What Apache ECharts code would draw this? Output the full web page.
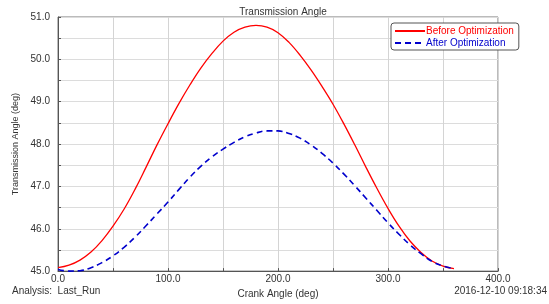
<!DOCTYPE html>
<html>
<head>
<meta charset="utf-8">
<script src="https://cdn.jsdelivr.net/npm/echarts@6/dist/echarts.min.js"></script>
<style>
  html, body { margin: 0; padding: 0; background: #fff; }
  #chart { width: 549px; height: 304px; }
</style>
</head>
<body>
<div id="chart"></div>
<script>
const crankAngle = [0, 10, 20, 30, 40, 50, 60, 70, 80, 90, 100, 110, 120, 130, 140, 150, 160, 170, 180,
  190, 200, 210, 220, 230, 240, 250, 260, 270, 280, 290, 300, 310, 320, 330, 340, 350, 360];
const beforeOpt = [45.08, 45.14, 45.26, 45.45, 45.72, 46.06, 46.46, 46.93, 47.45, 47.98, 48.48, 48.96, 49.4,
  49.8, 50.14, 50.43, 50.64, 50.76, 50.8, 50.76, 50.63, 50.4, 50.1, 49.75, 49.36, 48.94, 48.47, 47.97,
  47.45, 46.95, 46.48, 46.06, 45.71, 45.44, 45.24, 45.12, 45.06];
const afterOpt = [45.04, 45.0, 45.01, 45.08, 45.2, 45.36, 45.56, 45.8, 46.07, 46.35, 46.63, 46.93, 47.22,
  47.48, 47.7, 47.88, 48.04, 48.17, 48.26, 48.31, 48.31, 48.25, 48.14, 47.98, 47.78, 47.55, 47.29, 47.01,
  46.72, 46.43, 46.14, 45.87, 45.62, 45.41, 45.23, 45.12, 45.06];

const font = 'Liberation Sans, Arial, sans-serif';

function pairs(vals) {
  return crankAngle.map((x, i) => [x, vals[i]]);
}

var myChart = echarts.init(document.getElementById('chart'), null, { renderer: 'canvas' });
var option = {
  backgroundColor: '#fff',
  animation: false,
  title: {
    text: 'Transmission Angle',
    left: 278,
    top: 2,
    textAlign: 'center',
    textStyle: { fontFamily: font, fontSize: 10, fontWeight: 'normal', color: '#333' }
  },
  legend: {
    orient: 'vertical',
    left: 391,
    top: 23,
    itemWidth: 30,
    itemHeight: 8,
    itemGap: 2,
    padding: [3, 5, 2, 3],
    borderColor: '#555',
    borderWidth: 1,
    borderRadius: 3,
    backgroundColor: '#fff',
    itemStyle: { opacity: 0 },
    textStyle: { fontFamily: font, fontSize: 10, padding: [0, 0, 0, -4] },
    data: [
      { name: 'Before Optimization', textStyle: { color: '#ff0000' } },
      { name: 'After Optimization', textStyle: { color: '#0000cc' } }
    ]
  },
  grid: {
    left: 58, right: 51, top: 17, bottom: 29,
    show: true, borderColor: '#777', borderWidth: 1
  },
  xAxis: {
    type: 'value',
    min: 0, max: 400, interval: 50,
    name: 'Crank Angle (deg)',
    nameLocation: 'middle',
    nameGap: 13,
    nameTextStyle: { fontFamily: font, fontSize: 10, color: '#333' },
    axisLine: { lineStyle: { color: '#555' } },
    axisTick: { inside: true, length: 3, lineStyle: { color: '#555' } },
    axisLabel: {
      fontFamily: font, fontSize: 10, color: '#333', margin: 3,
      formatter: v => (v % 100 === 0 ? v.toFixed(1) : '')
    },
    splitLine: { lineStyle: { color: '#d4d4d4' } }
  },
  yAxis: {
    type: 'value',
    min: 45, max: 51, interval: 0.5,
    name: 'Transmission Angle (deg)',
    nameLocation: 'middle',
    nameGap: 36,
    nameTextStyle: { fontFamily: font, fontSize: 9, color: '#333' },
    axisLine: { show: true, lineStyle: { color: '#555' } },
    axisTick: { show: true, inside: true, length: 3, lineStyle: { color: '#555' } },
    axisLabel: {
      fontFamily: font, fontSize: 10, color: '#333', margin: 8,
      formatter: v => (Math.abs(v % 1) < 1e-9 ? v.toFixed(1) : '')
    },
    splitLine: { lineStyle: { color: '#dcdcdc' } }
  },
  graphic: [
    {
      type: 'text', left: 12, top: 286,
      style: { text: 'Analysis:  Last_Run', fontFamily: font, fontSize: 10, fill: '#333' }
    },
    {
      type: 'text', right: 2, top: 286,
      style: { text: '2016-12-10 09:18:34', fontFamily: font, fontSize: 10, fill: '#333' }
    }
  ],
  series: [
    {
      name: 'Before Optimization',
      type: 'line',
      smooth: 0.4,
      symbol: 'none',
      data: pairs(beforeOpt),
      lineStyle: { color: '#ff0000', width: 1.3 },
      itemStyle: { color: '#ff0000' }
    },
    {
      name: 'After Optimization',
      type: 'line',
      smooth: 0.4,
      symbol: 'none',
      data: pairs(afterOpt),
      lineStyle: { color: '#0000cc', width: 1.6, type: [6, 4] },
      itemStyle: { color: '#0000cc' }
    }
  ]
};
myChart.setOption(option);
</script>
</body>
</html>
